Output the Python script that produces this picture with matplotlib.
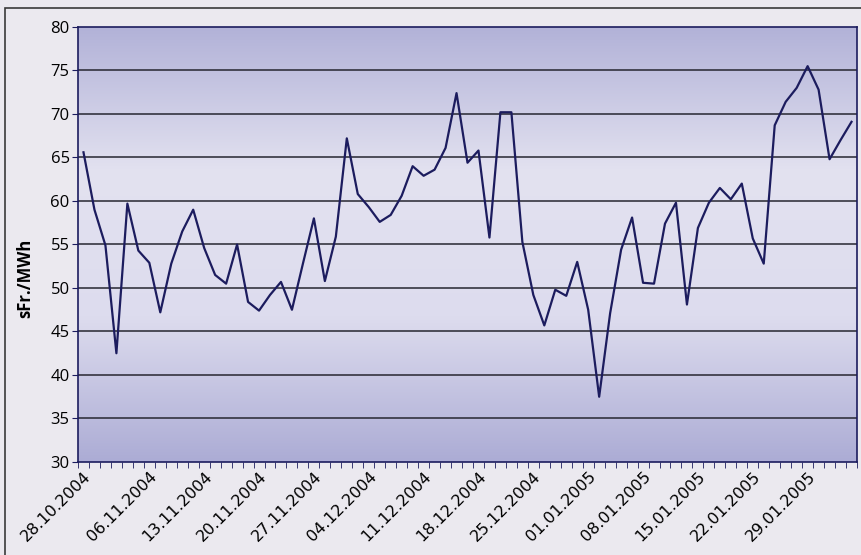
import matplotlib
matplotlib.use("Agg")
import matplotlib.pyplot as plt
import numpy as np
from matplotlib.colors import LinearSegmentedColormap
from matplotlib.patches import Rectangle

# daily prices, sFr./MWh
prices = [65.6, 59.0, 54.9, 42.5, 59.7, 54.3, 52.9, 47.2, 52.8, 56.5,
          59.0, 54.6, 51.5, 50.5, 55.0, 48.4, 47.4, 49.2, 50.7, 47.5,
          52.8, 58.0, 50.8, 55.9, 67.2, 60.8, 59.3, 57.6, 58.4, 60.6,
          64.0, 62.9, 63.6, 66.1, 72.4, 64.4, 65.8, 55.8, 70.2, 70.2,
          55.3, 49.2, 45.7, 49.8, 49.1, 53.0, 47.5, 37.5, 47.1, 54.4,
          58.1, 50.6, 50.5, 57.4, 59.8, 48.1, 56.9, 59.8, 61.5, 60.2,
          62.0, 55.7, 52.8, 68.7, 71.4, 73.0, 75.5, 72.8, 64.8, 67.0,
          69.1]
label_pos = [0, 6, 11, 16, 21, 26, 31, 36, 41, 46, 51, 56, 61, 66]
date_labels = ["28.10.2004", "06.11.2004", "13.11.2004", "20.11.2004",
               "27.11.2004", "04.12.2004", "11.12.2004", "18.12.2004",
               "25.12.2004", "01.01.2005", "08.01.2005", "15.01.2005",
               "22.01.2005", "29.01.2005"]

plt.rcParams['font.family'] = ['Open Sans', 'DejaVu Sans']

fig = plt.figure(figsize=(8.61, 5.55), dpi=100, facecolor="#ebe9ef")
fig.patches.append(Rectangle((5 / 861, -0.05), 1.1, 1 - 8 / 555 + 0.05,
                             transform=fig.transFigure, fill=False,
                             edgecolor="#3a3a3a", linewidth=1.2))

ax = fig.add_axes([78 / 861, 93 / 555, 779 / 861, 435 / 555])
n = len(prices)
x = np.arange(n)

# plot area gradient: darker at top and bottom, light in the middle
cmap = LinearSegmentedColormap.from_list("bg", ["#acacd5", "#dddcee", "#e3e2f0", "#b2b2d8"])
grad = np.linspace(0, 1, 256).reshape(-1, 1)
ax.imshow(grad, cmap=cmap, aspect="auto", extent=[-0.5, n - 0.5, 80, 30],
          zorder=0, interpolation="bicubic")

for yv in range(35, 80, 5):
    ax.axhline(yv, color="#262630", linewidth=1.1, zorder=1)

ax.plot(x, prices, color="#1c1c5e", linewidth=1.6, zorder=3)

ax.set_xlim(-0.5, n - 0.5)
ax.set_ylim(30, 80)
ax.set_yticks(range(30, 81, 5))
ax.tick_params(axis="y", labelsize=12, length=4, color="#1c1c5e", pad=2)

ax.set_xticks(label_pos)
ax.set_xticklabels(date_labels, rotation=45, ha="right", va="top",
                   rotation_mode="anchor", fontsize=11.5, family="DejaVu Sans")
ax.tick_params(axis="x", which="major", length=0, pad=5)
ax.set_xticks(np.arange(-0.5, n, 1), minor=True)
ax.tick_params(axis="x", which="minor", length=4, color="#1c1c5e")

for s in ax.spines.values():
    s.set_color("#1c1c5e")
    s.set_linewidth(1.2)

fig.text(25 / 861, 1 - 278 / 555, "sFr./MWh", rotation=90, ha="center",
         va="center", fontsize=12, fontweight="bold")

fig.savefig("out.png", dpi=100, facecolor=fig.get_facecolor())
